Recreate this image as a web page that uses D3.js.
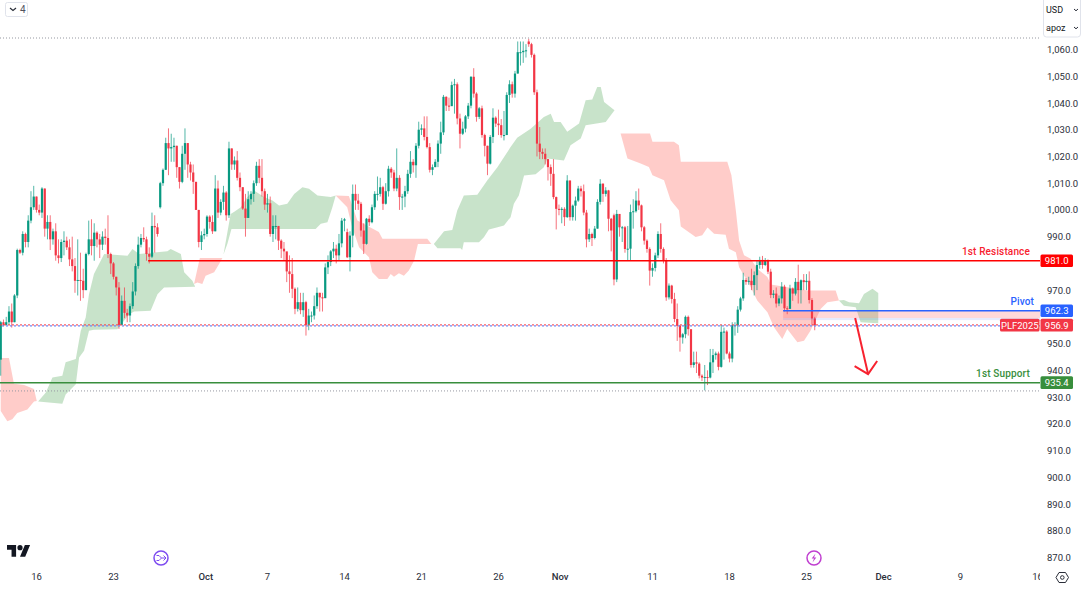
<!DOCTYPE html>
<html>
<head>
<meta charset="utf-8">
<style>
  html, body { margin: 0; padding: 0; background: #fff; overflow: hidden; }
  text { font-family: Roboto, "Noto Sans", sans-serif; }
</style>
<script src="https://cdn.jsdelivr.net/npm/d3@7"></script>
</head>
<body>
<svg id="chart" width="1083" height="589"></svg>
<script>
// candles, one value per 4h bar
const candleClose = [
  958,957,958,962,958,968,985,984,991,988,
  996,1001,1005,1000,999,1008,993,995.5,989,992,
  983,982,988,988.5,986,981.5,979,973.5,973.8,973.5,
  970,983.5,989,986.5,991.5,989,987,990,989.5,983.5,
  980,975,971,957,966,961.5,960.5,964,969.5,979,
  987,989.5,989,983.5,982.5,994,993.5,991,1010,1015,
  1025,1023,1023.5,1024,1016,1010.5,1021,1025,1017,1014,
  1010.5,1000,988,990.5,991,997.5,995.5,992,1008,999,
  1003,1006.5,998,1023,1017,1018.5,1012,1008.5,1000.5,997,
  1004,1006,1010,1016.5,1012,1007,1002,1002.5,991,994,
  994,988.5,985.5,984.5,977,976,970.5,963,965.5,962.5,
  965.5,957,960.5,960.5,964,969,967.3,967,978.5,980.5,
  984.5,985.5,983,987.5,996,996.5,982.3,990.4,1006,1003.5,
  1002.3,992.3,987.3,996.7,995.4,1001,1006,1006,1008.5,1002.3,
  1007,1015.4,1014,1008,1012,1004.8,1005,1007,1013.5,1018,
  1016.7,1024,1030,1030.5,1027.3,1023.5,1015,1016,1018,1024.8,
  1029,1042.3,1039,1038.8,1046.7,1047,1034.2,1028.5,1030.4,1035,
  1039,1049.8,1043.5,1034.8,1038,1028,1024,1017.3,1027.3,1034.5,
  1032.3,1031.7,1028,1028,1043,1047,1043.5,1051,1059,1059,
  1059.5,1059.7,1062,1058,1044,1024.8,1021.7,1021,1019,1016,
  1013.5,1004.8,1000.4,1000,1000.4,997.3,1011,997.3,1001.6,1003.5,
  1008,1007,999,989,991,989.5,993,1003,1009.8,1006,
  1007.3,996.7,992.3,974,998.5,993.5,993.5,985.4,985.5,999.2,
  999.5,1003.5,1001.7,993.5,988.5,985.4,977.3,978.3,983,991,
  985.4,981,967.3,971.7,966.7,959.2,956.7,952.3,953.5,960,
  955.4,942,943,942.5,938,937.3,937.5,937.3,943,945.7,
  946.3,941.3,954.4,954.5,946.3,944.4,956.9,956.9,962.7,966.9,
  973.8,973.1,973.5,971.9,975.6,979.4,981.3,979.4,981,976.9,
  968.2,968.7,965,966.9,971.3,963.2,963,970.6,968.7,973.1,
  970,973.7,973,973.5,966.3,959.4,956.9
]
const candleHigh = [
  958.5,959,960,964,965,968.5,985.5,985.5,992,991.5,
  998,1007,1009,1005,1002,1008.5,1008,998,998,993,
  995,989,989,992,990,989,990,982,989,984,
  978,984,996,996.5,995,992,991,992,993,998,
  984,980.5,975,973,968,971,963,965,973,980,
  990,991,993.5,990,986,999,998,995,1010.5,1015.5,
  1027,1030.5,1028.5,1027,1024,1016,1024,1030.5,1025,1018,
  1017,1010.5,1000,992,993,998,998,998,1013,1011,
  1004,1009,1007,1025.5,1023,1020,1022,1014,1008.5,1006,
  1007,1007,1011,1018,1019,1019,1008,1006,1005,998,
  998,994,989,988,984,983,982,971,971,969,
  969,966,963,962,968,971,969,969,980,983,
  985,988,987,991,997,997,993,992,1009.5,1009.5,
  1006,1003,995,997,998,1002,1007,1012.5,1012,1009,
  1010,1016.5,1016,1015,1023,1013,1006,1009,1015,1022,
  1019,1025,1033,1032,1035,1035,1025,1017,1019,1026,
  1033,1043,1042.5,1042,1048,1049,1047.7,1036,1033,1035.5,
  1040,1050,1053,1044,1038.5,1039,1028.5,1024,1028,1038,
  1035,1037.5,1034,1037,1044,1048.5,1048,1052,1063,1063,
  1063,1062,1064,1062.5,1058.5,1045,1031,1023,1023,1019,
  1017,1019,1005,1002,1001,1001,1013,1011,1002,1005,
  1009,1009,1009.5,1000,993,991.5,994,1004,1011.5,1010,
  1008.5,1007.5,997,998.6,1000,998,994,994,994,1002,
  1004,1007,1008,1002,994,989,986,980,984,992,
  995,986,982,972.5,972,969,965,957,954,960.5,
  960.5,955,947,947,943,938.5,942,940,948,948,
  947,947,957,956,955,947,958,958,964,967.5,
  976.5,974.5,975,978,977,981,982.5,982.8,982,981.5,
  978,970,971,968,973,972,964,972,971,974.5,
  979.5,974,976,976,977,967,960
]
const candleLow = [
  938,956.5,957,957,956,958,967,983.5,983,986,
  986,995,1000,999,998,997,990,989,985,987,
  981,980,980.5,983,985,979,977,969,968,966,
  967,970,983,983,981,986,982,985,987,982,
  976,974,968,955.5,957,959.5,958,958,963,968,
  978,986,988,981,980,982,984,990,1000.5,1009,
  1015,1013,1018,1018,1012,1008,1010,1015,1012,1011,
  1006,1000,986,985,989,990,993,991,992,997,
  998,1000,996,997,1015,1015,1011,1007,1000,990,
  997,1002,1003,1009,1010,1005,1000,999,990,988,
  989,985,982,981,973,969,967,961,962,961,
  960,953,955,958,959,963,962,962,967,976,
  979,982,980,981,986,992,982,977,986,1000,
  1000,990,983.5,987,994,995,1000,1003.5,1005,1000,
  1002,1005,1012,1007,1007,1000,1000,1001,1006,1012,
  1014,1012,1023,1028,1026,1023,1014,1013,1016,1016,
  1021,1028,1037,1037,1039,1036,1032,1023,1028,1029,
  1034,1038,1042,1033,1034,1027,1020,1013,1017,1025,
  1031,1028,1027,1026,1028,1040,1042,1042,1051,1054,
  1055,1057,1061,1057,1043,1020,1019,1019,1017,1011,
  1009,1004,992.7,998,995,994,997,996,996,996,
  1003,1005,998,986,988,986.5,989,993,1002,1003,
  1005,992,984.5,971.8,973,990,988,984,981,981,
  993,999,1000,992,987,984,971.7,975,977,982,
  984,980,966,966.5,965,958,951,947,950,952,
  953,941,941,939,937,936,932.5,934.5,937,939,
  944,940,941,944,946,943,943,953,954,962,
  966,972,972,970,968,970,978,978,979,976,
  967,967,963.5,964,965,962,961,963,966,968,
  965,965,970,970,965,957,955
]
// bars that did not open at the previous close
const gapIndex = [0,58,126,192,223]
const gapOpen = [944,1001,991.7,1063,998]

// ichimoku cloud, [bar, price] along each edge
const cloud1Top = [[0,944.6],[3,944.6],[4.8,935],[8.5,934.5],[12.1,933],[13.1,928.5]]
const cloud1Bottom = [[0,924.8],[2.4,921],[4.2,921.7],[6,924],[9.7,925.4],[12.1,928.3],[13.1,928.5]]
const cloud2Top = [[13.6,928.3],[16.4,931.7],[18.8,937.3],[22.4,938],[23.6,943],[27.3,944.2],[29.1,954.8],[30.9,959.8],[32.1,968.5],[33.9,976],[37.6,983.5],[46.1,982.9],[47.9,985.4],[50.3,983.5],[60.6,984.5],[61.8,985.4],[65.5,983.5],[66.7,976.7],[69.7,973.5],[70.7,971.3]]
const cloud2Bottom = [[13.6,928.3],[22.4,927.5],[23.6,931],[27.3,934.8],[28.5,944.8],[30.3,947.3],[32.1,954.8],[33.9,955.2],[42.4,955.4],[46.7,961],[48.5,962],[54.5,962.3],[57,968.5],[59.4,971],[70.7,971.3]]
const cloud3Top = [[70.3,972.3],[72.4,982],[80.6,982]]
const cloud3Bottom = [[70.3,972.3],[71.5,972.9],[73.3,972.3],[74.5,975.4],[77.6,976.7],[79.4,979.8],[80.6,982]]
const cloud4Top = [[81,983.3],[83.6,998.5],[84.8,999.2],[87.3,1001],[89.7,1004.8],[92.1,1007.3],[95.8,1004.8],[98.8,1003.5],[101.2,1001.7],[104.2,1002.3],[106.7,1006],[109.7,1008.5],[112.1,1007.9],[115.2,1005.4],[120,1004.8],[121.8,1005.4]]
const cloud4Bottom = [[81,983.3],[82.4,987.3],[83.9,992.9],[114.5,992.9],[116.4,994.8],[118.8,995.4],[120.6,1001],[121.8,1005.4]]
const cloud5Top = [[121.8,1005.4],[126.6,1005.2],[129.7,996],[137.5,991.7],[138.8,989.2],[155.1,989.2],[156.6,987.3]]
const cloud5Bottom = [[121.8,1005.4],[126,1001],[127.8,993.5],[130.3,986],[133.9,982.3],[135.1,976.7],[137.5,974.2],[140.6,974.2],[141.8,976],[143,975],[144.8,976.3],[146.6,975.4],[148.4,977.3],[150.3,981],[151.7,987.3],[156.6,987.3]]
const cloud6Top = [[157.5,987.3],[161.2,992],[164.2,992.5],[166,999.8],[168.4,1005.4],[173.3,1005.7],[176.9,1011],[180.6,1016],[185.4,1023.5],[187.8,1027],[192.7,1030.4],[197.5,1034.8],[200,1036],[201.2,1032.9],[203.6,1032.9],[206,1029.2],[210.3,1032.3],[212.7,1041],[215.1,1041.3],[216.9,1046],[218.2,1046],[219.4,1040.4],[223.2,1037.3]]
const cloud6Bottom = [[157.5,987.3],[158.8,985.7],[167.2,985.7],[167.8,985],[168.4,987.9],[173.9,987.9],[175.7,989.8],[177.5,992.7],[180,993.3],[183,994.2],[185.4,997.3],[186.6,1002.3],[188.4,1005.4],[190.3,1012.9],[194.5,1013.3],[197.5,1016],[198.8,1019.2],[204.8,1018.5],[207.2,1024.2],[210.9,1026.7],[212.7,1031.7],[220,1032.9],[223.2,1037.3]]
const cloud7Top = [[223.2,1037.3],[225.4,1028.6],[236.1,1028.6],[237,1025.5],[244.8,1025.5],[246.6,1024.2],[247.3,1018],[264.2,1018],[265.7,1013],[267.3,999.9],[268.5,988.6],[270.3,983],[272.7,981.7],[275.1,978],[278.8,974.9],[280,972.1],[293.3,969.9],[303.6,969.9],[304.8,966.1]]
const cloud7Bottom = [[223.2,1037.3],[225.4,1028.6],[227.9,1019.2],[232.7,1017.4],[235.7,1016.1],[237,1013],[241.2,1011.1],[243.6,1003.6],[246.6,999.9],[247.3,993.8],[252.7,989.9],[255.1,990.5],[257,993.4],[259.4,991.1],[263.6,990.7],[264.8,985.5],[267.3,984.2],[268.5,978.6],[272.1,972.4],[275.1,966.1],[278.8,961.7],[281.2,956.1],[284.2,951.7],[286,955.5],[289.7,950.5],[292.1,951.1],[294.5,954.9],[298.2,963],[300.6,965.5],[304.8,966.1]]
const cloud8Top = [[304.8,966.1],[306.6,966.3],[308.5,965.5],[312.1,965.1],[313.9,968.6],[317,970.5],[319.1,968.9]]
const cloud8Bottom = [[304.8,966.1],[306.6,964.2],[310.9,963.6],[312.7,958],[319.1,957.6]]

const redClouds = [[cloud1Top,cloud1Bottom],[cloud3Top,cloud3Bottom],[cloud5Top,cloud5Bottom],[cloud7Top,cloud7Bottom]]
const greenClouds = [[cloud2Top,cloud2Bottom],[cloud4Top,cloud4Bottom],[cloud6Top,cloud6Bottom],[cloud8Top,cloud8Bottom]]

// levels
const resistance = 981.0
const pivot = 962.3
const support = 935.4
const lastPrice = 956.9
const rangeHigh = 1064.3
const rangeLow = 932.3
const pivotBandPink = 959.6
const pivotBandBlue = 958.8
const resistanceStartBar = 53.6
const pivotStartBar = 284.5

const arrowShaft = [[310.7,959.6],[315.4,938.6]]
const arrowHead = [[310.5,941.6],[315.4,938.6],[318.7,943.5]]

// axes
const priceTicks = [1060,1050,1040,1030,1020,1010,1000,990,970,950,940,930,920,910,900,890,880,870]
const tradingDays = [0,5,11,15,20,25,30,34,40,45,50,55,60,65]
const dayLabels = ["16","23","Oct","7","14","21","26","Nov","11","18","25","Dec","9","16"]
const monthLabels = ["Oct","Nov","Dec"]

const GREEN = "#089981", RED = "#f23645"
const paneRight = 1040

var svg = d3.select("#chart")

var y = d3.scaleLinear().domain([1060,870]).range([49.5,557.5])
var xDay = d3.scaleLinear().domain([0,65]).range([36,1037])
// 5.6 bars a day, first bar sits just left of the 16th
var barDay = d3.scaleLinear().domain([0,5.6]).range([-2.29,-1.29])
var x = function(i){ return xDay(barDay(i)) }

svg.append("clipPath").attr("id","pane").append("rect")
    .attr("x",0).attr("y",0).attr("width",paneRight).attr("height",589)

var pane = svg.append("g").attr("clip-path","url(#pane)")

// cloud
var edge = d3.line().x(function(d){ return x(d[0]) }).y(function(d){ return y(d[1]) })
function drawClouds(list, color)
{
    pane.append("g").selectAll("path").data(list).enter().append("path")
        .attr("d",function(d){ return edge(d[0].concat(d[1].slice().reverse())) + "Z" })
        .attr("fill",color)
        .attr("fill-opacity",0.29)
}
drawClouds(redClouds,"#ff4f45")
drawClouds(greenClouds,"#43a047")

// candles
var bars = candleClose.map(function(c,i){
    var g = gapIndex.indexOf(i)
    var o = g >= 0 ? gapOpen[g] : candleClose[i-1]
    return {i:i, o:o, h:candleHigh[i], l:candleLow[i], c:c}
})
var candle = pane.append("g").selectAll("g").data(bars).enter().append("g")
candle.append("line")
    .attr("x1",function(d){ return x(d.i) }).attr("x2",function(d){ return x(d.i) })
    .attr("y1",function(d){ return y(d.h) }).attr("y2",function(d){ return y(d.l) })
    .attr("stroke",function(d){ return d.c >= d.o ? GREEN : RED })
    .attr("stroke-opacity",0.7)
    .attr("stroke-width",1)
candle.append("rect")
    .attr("x",function(d){ return x(d.i)-1.1 })
    .attr("width",2.2)
    .attr("y",function(d){ return y(Math.max(d.o,d.c)) })
    .attr("height",function(d){ return Math.max(1,Math.abs(y(d.o)-y(d.c))) })
    .attr("fill",function(d){ return d.c >= d.o ? GREEN : RED })

// dotted lines
function hLine(price, x1, color, width, dash)
{
    return pane.append("line")
        .attr("x1",x1).attr("x2",paneRight)
        .attr("y1",y(price)).attr("y2",y(price))
        .attr("stroke",color).attr("stroke-width",width)
        .attr("stroke-dasharray",dash)
}
hLine(rangeHigh,0,"#9598a1",1,"1 2")
hLine(rangeLow,0,"#9598a1",1,"1 2")
hLine(lastPrice,0,"#6f86f2",1.2,"2 2").attr("transform","translate(2,0.7)")
hLine(lastPrice,0,RED,1.2,"2 2").attr("stroke-opacity",0.8).attr("transform","translate(0,-0.3)")

// pivot band
pane.append("rect").attr("x",x(pivotStartBar)).attr("width",paneRight-x(pivotStartBar))
    .attr("y",y(pivot)).attr("height",y(pivotBandPink)-y(pivot))
    .attr("fill","#ff5252").attr("fill-opacity",0.22)
pane.append("rect").attr("x",x(pivotStartBar)).attr("width",paneRight-x(pivotStartBar))
    .attr("y",y(pivotBandPink)).attr("height",y(pivotBandBlue)-y(pivotBandPink))
    .attr("fill","#2962ff").attr("fill-opacity",0.12)

// levels
hLine(resistance,x(resistanceStartBar),"#ff0000",1.5,null)
hLine(support,0,"#388e3c",1.5,null)
hLine(pivot,x(pivotStartBar),"#2962ff",1.5,null)

// arrow
pane.append("path").attr("d",edge(arrowShaft)).attr("fill","none")
    .attr("stroke","#f7222f").attr("stroke-width",2)
pane.append("path").attr("d",edge(arrowHead)).attr("fill","none")
    .attr("stroke","#f7222f").attr("stroke-width",2)

// level labels
function levelLabel(txt, right, price, color)
{
    svg.append("text").attr("x",right).attr("y",y(price)-5.5)
        .attr("text-anchor","end").attr("font-size",10).attr("font-weight",500)
        .attr("letter-spacing",0.15).attr("fill",color).text(txt)
}
levelLabel("1st Resistance",1030,resistance,"#f7222f")
levelLabel("Pivot",1034,pivot,"#2962ff")
levelLabel("1st Support",1030,support,"#388e3c")

// price axis
var yAxis = d3.axisRight(y).tickValues(priceTicks).tickSize(0).tickPadding(0)
    .tickFormat(d3.format(",.1f"))
var yg = svg.append("g").attr("transform","translate(1047,0)").call(yAxis)
yg.select(".domain").remove()
yg.selectAll("text").attr("font-size",9.5).attr("font-family","Roboto, sans-serif").attr("fill","#2a2e39")

// price tags
function priceTag(x0, w, price, color, txt)
{
    svg.append("rect").attr("x",x0).attr("y",y(price)-6.3).attr("width",w).attr("height",12.6)
        .attr("rx",1.5).attr("fill",color)
    svg.append("text").attr("x",x0+w/2).attr("y",y(price)+3.4).attr("text-anchor","middle")
        .attr("font-size",9.5).attr("fill","#fff").text(txt)
}
priceTag(1040.5,32.5,resistance,"#ff0000",resistance.toFixed(1))
priceTag(1040.5,32.5,pivot,"#2962ff",pivot.toFixed(1))
priceTag(1000,39.5,lastPrice,RED,"PLF2025")
priceTag(1040.5,32.5,lastPrice,RED,lastPrice.toFixed(1))
priceTag(1040.5,32.5,support,"#388e3c",support.toFixed(1))

// time axis
var xAxis = d3.axisBottom(xDay).tickValues(tradingDays).tickSize(0).tickPadding(0)
    .tickFormat(function(d,i){ return dayLabels[i] })
var xClip = svg.append("g").attr("clip-path","url(#pane)")
var xg = xClip.append("g").attr("transform","translate(0,573.5)").call(xAxis)
xg.select(".domain").remove()
xg.selectAll("text").attr("font-size",9.5).attr("font-family","Roboto, sans-serif")
    .attr("fill","#2a2e39")
    .attr("font-weight",function(d,i){ return monthLabels.indexOf(dayLabels[i]) >= 0 ? 500 : 400 })

// top left legend toggle
svg.append("rect").attr("x",5.5).attr("y",2.5).attr("width",22).attr("height",14).attr("rx",2)
    .attr("fill","#fff").attr("stroke","#e0e3eb")
svg.append("path").attr("d","M10 8l3 2.5l3-2.5").attr("fill","none").attr("stroke","#2a2e39").attr("stroke-width",1.2)
svg.append("text").attr("x",20).attr("y",13).attr("font-size",10).attr("fill","#50535e").text("4")

// currency and unit box
svg.append("rect").attr("x",1043.5).attr("y",-3).attr("width",37).attr("height",40).attr("rx",3)
    .attr("fill","#fff").attr("stroke","#e0e3eb")
svg.append("text").attr("x",1046).attr("y",13).attr("font-size",9).attr("fill","#131722").text("USD")
svg.append("text").attr("x",1046).attr("y",31).attr("font-size",9).attr("fill","#131722").text("apoz")
svg.append("path").attr("d","M1074 9l2 1.8l2-1.8M1074 27l2 1.8l2-1.8").attr("fill","none").attr("stroke","#2a2e39")

// logo
svg.append("g").attr("transform","translate(7,542.5) scale(0.65)")
    .attr("fill","#131722")
    .call(function(g){
        g.append("path").attr("d","M14 22H7V11H0V4h14v18zM28 22h-8l7.5-18h8L28 22z")
        g.append("circle").attr("cx",20).attr("cy",8).attr("r",4)
    })

// event markers
svg.append("circle").attr("cx",161).attr("cy",558).attr("r",7).attr("fill","#fff")
    .attr("stroke","#7e4cf0").attr("stroke-width",1.5)
svg.append("path").attr("d","M156.5 555.5h2.5l2.5 2.5l-2.5 2.5h-2.5M161.5 558h4M163.5 555.5l2.5 2.5l-2.5 2.5")
    .attr("fill","none").attr("stroke","#7e4cf0").attr("stroke-width",1)
svg.append("circle").attr("cx",814).attr("cy",558).attr("r",7).attr("fill","#fff")
    .attr("stroke","#c03fd0").attr("stroke-width",1.5)
svg.append("path").attr("d","M815.5 553.5l-3.8 5h2.3l-1.5 4l3.8-5h-2.3z").attr("fill","#c03fd0")

// settings
svg.append("path").attr("d","M1059 572.5h6.5l3 5l-3 5h-6.5l-3-5z").attr("fill","none").attr("stroke","#2a2e39")
svg.append("circle").attr("cx",1062.3).attr("cy",577.5).attr("r",1.8).attr("fill","none").attr("stroke","#2a2e39")
</script>
</body>
</html>
